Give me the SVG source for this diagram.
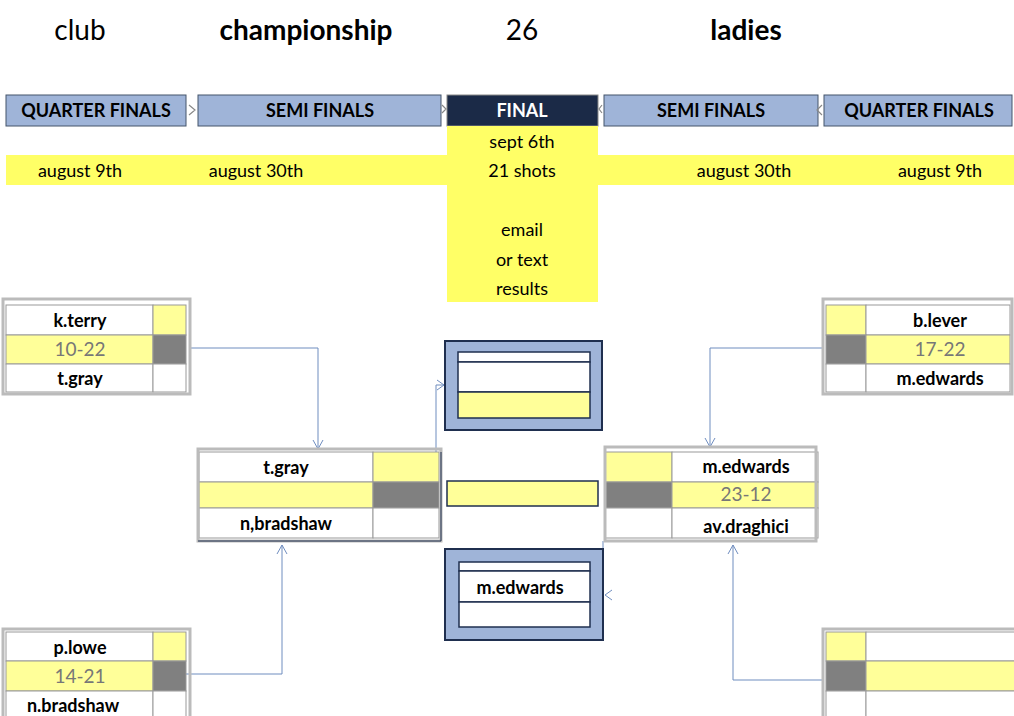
<svg xmlns="http://www.w3.org/2000/svg" width="1014" height="716" viewBox="0 0 1014 716">
<style>
text{font-family:Lato,"Open Sans","Liberation Sans",sans-serif;text-anchor:middle}
.t{font-size:28px}.b{font-weight:bold}
.h{font-size:18px;font-weight:bold}
.d{font-size:18px}
.n{font-size:18px;font-weight:bold;fill:#000}
.s{font-size:19px;fill:#777}
.hb{fill:#9fb4d8;stroke:#44546a;stroke-width:1}
.frame{fill:none;stroke:#bbb;stroke-width:3}
.cell{fill:#fff;stroke:#999;stroke-width:1}
.yc{fill:#ffff99;stroke:#999;stroke-width:1}
.gc{fill:#808080;stroke:#999;stroke-width:1}
.fb{fill:#9fb4d8;stroke:#1f2f4f;stroke-width:2}
.fi{fill:#fff;stroke:#1f2f4f;stroke-width:1.5}
.fy{fill:#ffff99;stroke:#1f2f4f;stroke-width:1.5}
.c{fill:none;stroke:#6f8dbf;stroke-width:1}
.g{fill:none;stroke:#888;stroke-width:1.2}
</style>
<g id="title">
<text class="t" x="80" y="40">club</text>
<text class="t b" x="306" y="40">championship</text>
<text class="t" x="522" y="40">26</text>
<text class="t b" x="746" y="40">ladies</text>
</g>
<g id="headers">
<rect class="hb" x="6" y="95" width="180" height="31"/>
<text class="h" x="96" y="117">QUARTER FINALS</text>
<rect class="hb" x="198" y="95" width="243" height="31"/>
<text class="h" x="320" y="117">SEMI FINALS</text>
<rect x="447" y="95" width="151" height="31" fill="#1b2a47" stroke="#888"/>
<text class="h" x="522" y="117" fill="#fff">FINAL</text>
<rect class="hb" x="604" y="95" width="214" height="31"/>
<text class="h" x="711" y="117">SEMI FINALS</text>
<rect class="hb" x="824" y="95" width="188" height="31"/>
<text class="h" x="919" y="117">QUARTER FINALS</text>
<path class="g" d="M189 105l6 5-6 5M442 105l4 4-4 4M602 105l-3 4 3 4M822 105l-5 5 5 5"/>
</g>
<g id="dates">
<rect x="6" y="155" width="1008" height="30" fill="#ffff66"/>
<rect x="447" y="126" width="151" height="176" fill="#ffff66"/>
<text class="d" x="80" y="177">august 9th</text>
<text class="d" x="256" y="177">august 30th</text>
<text class="d" x="744" y="177">august 30th</text>
<text class="d" x="940" y="177">august 9th</text>
<text class="d" x="522" y="148">sept 6th</text>
<text class="d" x="522" y="177">21 shots</text>
<text class="d" x="522" y="236">email</text>
<text class="d" x="522" y="266">or text</text>
<text class="d" x="522" y="295">results</text>
</g>
<g id="connectors">
<path class="c" d="M190 348H318V449M313 440l5 9 5-9"/>
<path class="c" d="M186 674H282V545M277 554l5-9 5 9"/>
<path class="c" d="M436 452V385H444M437 380l7 5-7 5"/>
<path class="c" d="M824 348H710V447M705 438l5 9 5-9"/>
<path class="c" d="M824 680H733V545M728 554l5-9 5 9"/>
<path class="c" d="M603 541V595M612 590l-7 5 7 5"/>
</g>
<g id="qf-left-top">
<rect class="cell" x="6" y="305" width="147" height="30"/><rect class="yc" x="153" y="305" width="33" height="30"/>
<rect class="yc" x="6" y="335" width="147" height="29"/><rect class="gc" x="153" y="335" width="33" height="29"/>
<rect class="cell" x="6" y="364" width="147" height="28"/><rect class="cell" x="153" y="364" width="33" height="28"/>
<rect class="frame" x="3" y="299" width="187" height="95"/>
<text class="n" x="80" y="327">k.terry</text><text class="s" x="80" y="356">10-22</text><text class="n" x="80" y="385">t.gray</text>
</g>
<g id="qf-left-bottom">
<rect class="cell" x="6" y="632" width="147" height="29"/><rect class="yc" x="153" y="632" width="33" height="29"/>
<rect class="yc" x="6" y="661" width="147" height="30"/><rect class="gc" x="153" y="661" width="33" height="30"/>
<rect class="cell" x="6" y="691" width="147" height="28"/><rect class="cell" x="153" y="691" width="33" height="28"/>
<rect class="frame" x="3" y="629" width="187" height="92"/>
<text class="n" x="80" y="654">p.lowe</text><text class="s" x="80" y="683">14-21</text><text class="n" x="73" y="712">n.bradshaw</text>
</g>
<g id="qf-right-top">
<rect class="yc" x="826" y="305" width="40" height="30"/><rect class="cell" x="866" y="305" width="144" height="30"/>
<rect class="gc" x="826" y="335" width="40" height="29"/><rect class="yc" x="866" y="335" width="144" height="29"/>
<rect class="cell" x="826" y="364" width="40" height="28"/><rect class="cell" x="866" y="364" width="144" height="28"/>
<rect class="frame" x="823" y="299" width="189" height="95"/>
<text class="n" x="940" y="327">b.lever</text><text class="s" x="940" y="356">17-22</text><text class="n" x="940" y="385">m.edwards</text>
</g>
<g id="qf-right-bottom">
<rect class="yc" x="826" y="632" width="40" height="29"/><rect class="cell" x="866" y="632" width="150" height="29"/>
<rect class="gc" x="826" y="661" width="40" height="30"/><rect class="yc" x="866" y="661" width="150" height="30"/>
<rect class="cell" x="826" y="691" width="40" height="28"/><rect class="cell" x="866" y="691" width="150" height="28"/>
<rect class="frame" x="823" y="629" width="195" height="92"/>
</g>
<g id="semi-left">
<rect class="cell" x="199" y="452" width="174" height="30"/><rect class="yc" x="373" y="452" width="66" height="30"/>
<rect class="yc" x="199" y="482" width="174" height="26"/><rect class="gc" x="373" y="482" width="66" height="26"/>
<rect class="cell" x="199" y="508" width="174" height="30"/><rect class="cell" x="373" y="508" width="66" height="30"/>
<rect class="frame" x="198" y="449" width="243" height="92"/>
<path d="M198 541H441V452" stroke="#1f2f4f" fill="none"/>
<text class="n" x="286" y="474">t.gray</text><text class="n" x="286" y="530">n,bradshaw</text>
</g>
<g id="semi-right">
<rect class="yc" x="605" y="452" width="67" height="30"/><rect class="cell" x="672" y="452" width="146" height="30"/>
<rect class="gc" x="605" y="482" width="67" height="26"/><rect class="yc" x="672" y="482" width="146" height="26"/>
<rect class="cell" x="605" y="508" width="67" height="30"/><rect class="cell" x="672" y="508" width="146" height="30"/>
<rect class="frame" x="605" y="447" width="211" height="94"/>
<text class="n" x="746" y="473">m.edwards</text><text class="s" x="746" y="501">23-12</text><text class="n" x="746" y="533">av.draghici</text>
</g>
<g id="final-top">
<rect class="fb" x="445" y="341" width="157" height="89"/>
<rect class="fi" x="458" y="352" width="132" height="10"/>
<rect class="fi" x="458" y="362" width="132" height="30"/>
<rect class="fy" x="458" y="392" width="132" height="26"/>
</g>
<g id="final-middle">
<rect class="fy" x="447" y="481" width="151" height="25" stroke-width="1"/>
</g>
<g id="final-bottom">
<rect class="fb" x="445" y="549" width="158" height="91"/>
<rect class="fi" x="459" y="562" width="131" height="9"/>
<rect class="fi" x="459" y="571" width="131" height="31"/>
<rect class="fi" x="459" y="602" width="131" height="25"/>
<text class="n" x="520" y="594">m.edwards</text>
</g>
</svg>
